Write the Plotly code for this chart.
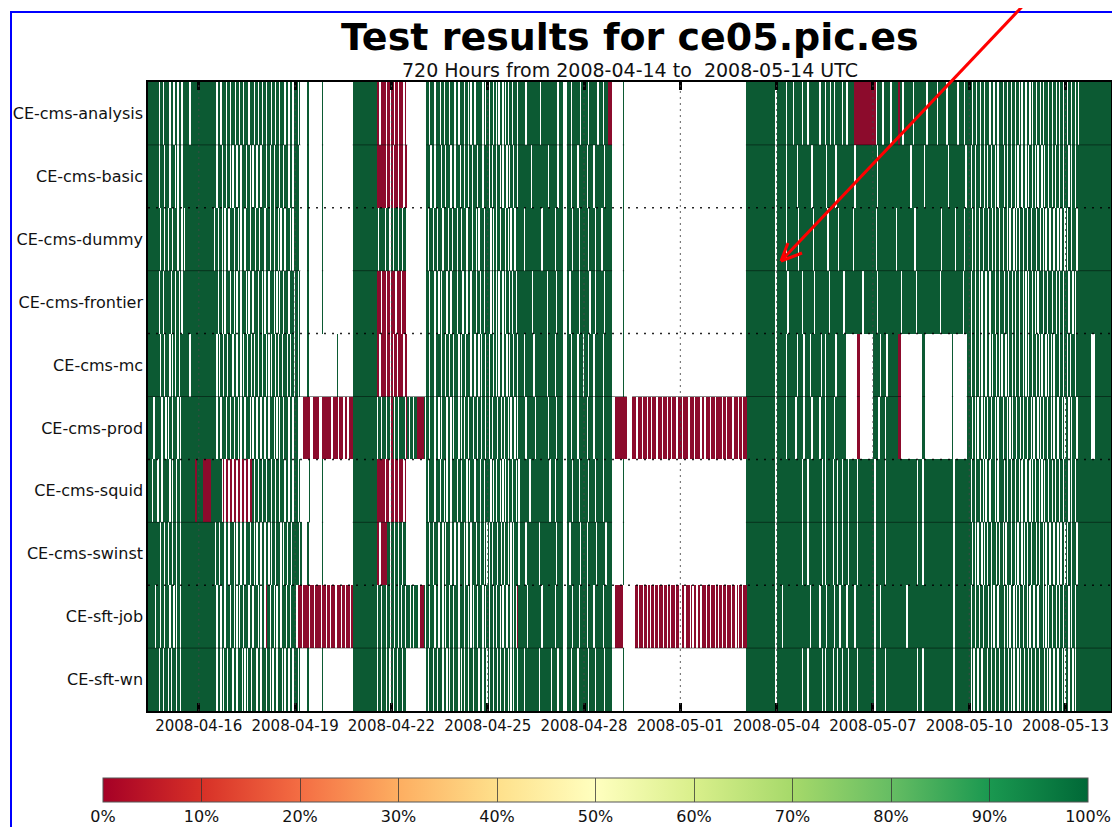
import pandas as pd
import plotly.graph_objects as go

# ---------------------------------------------------------------- data
services = ["CE-cms-analysis", "CE-cms-basic", "CE-cms-dummy", "CE-cms-frontier",
            "CE-cms-mc", "CE-cms-prod", "CE-cms-squid", "CE-cms-swinst",
            "CE-sft-job", "CE-sft-wn"]

# One string per UTC calendar day, one character per hour:
# g = passed (100 %), r = failed (0 %), . = no result.
# First chunk: 2008-04-14 10h-23h, then 04-15 ... 05-13, last chunk: 2008-05-14 00h-09h.
analysis_days = [
    "gg gggggg .gg.gg",
    "gg.gg. gg.gg. ggggg. gggggg", "gggggg gggggg g.gg.g gg.gg.", "ggg.gg .gg.gg g.ggg. gg.gg.",
    "gg.ggg .gg.gg .ggg.g g.gg.g", "gg.g.. ...g.. ...... ..g...", "...... ...... ...... .ggggg",
    "gggggg gggggg grr.rr rr.rr.", "rr.rr. rrr.r. ...... ......", "..gg.g gg.ggg .gg.gg g.ggg.",
    "gg.ggg .gg.g. gg.ggg gg.g.g", "g.gg.g .g.gg. g.g.gg .ggg.g", "gggg.g gggggg ggg.gg gggggg",
    "gggg.g gg...g gg.ggg ggg.gg", "ggg.gg gggg.g gg.ggg rrr...", ".....g ...... ...... ......",
    "...... ...... ...... ......", "...... ...... ...... ......", "...... ...... ...... ......",
    ".ggggg gggggg gggggg ggggg.", "gggggg g.gggg .ggggg g.ggg.", "gggggg gg.ggg .ggg.g g.gggg",
    "g.gg.g ggggrr rrrrrr rrrrrr", "rr.ggg g.gggg g.gggg grgg.g", "gggggg .ggggg gggg.g gggggg",
    ".ggggg g.gggg ggg.gg gg.ggg", "gg.gg. gg.gg. ggg.gg .gg.gg", "g.gg.g g.gg.g g.g.gg .gg.g.",
    "gg.gg. g.ggg. gg.gg. g.gg.g", "g.gg.g g.g.gg gggggg gggggg",
    "gggggg gggg",
]
basic_days = [
    "gg gggggg .ggg.g",
    "gg.ggg .g.gg. gggggg gggggg", "gggggg gggggg g.ggg. gg.gg.", "g.gg.g g.ggg. gg.g.g g.gg.g",
    "gg.gg. gg.ggg .gg.gg g.gg.g", "ggg... ...g.. ...... ..g...", "...... ...... ...... .ggggg",
    "gggggg gggggg grrrrr rr.rr.", "r.rrr. rrr.rr ...... ......", "..ggg. gg.ggg g.gg.g gg.gg.",
    "ggg.gg .gg.gg .ggg.g gg.ggg", "g.g.gg .gg.g. gg.g.g g.gg.g", "gggggg gg.ggg gggggg ggg.gg",
    "gggg.g gg...g gg.ggg g.gggg", "gg.ggg g.gggg ggg.gg ggg...", ".....g ...... ...... ......",
    "...... ...... ...... ......", "...... ...... ...... ......", "...... ...... ...... ......",
    ".ggggg gggggg gggggg ggggg.", "gggggg g.gggg ggg.gg gggggg", "gg.ggg gggggg g.gggg gg.ggg",
    "gggggg gggg.g gggggg gggggg", "ggg.gg gggggg gggggg gggggg", "gggg.g gggggg gg.ggg gggggg",
    "gggggg gg.ggg gggggg ggg.gg", "g.gg.g gg.gg. g.gg.g g.g.gg", "gg.g.g g.gg.g .gg.gg .g.gg.",
    "g.g.gg .g.gg. gg.g.g g.gg.g", "gg.g.g g.gggg gggggg gggggg",
    "gggggg gggg",
]
dummy_days = [
    "gg gggggg g.gg.g",
    "g.gg.g gg.gg. g.gggg gggggg", "gggggg ggggg. gg.gg. g.gg.g", "gg.gg. g.gg.g gg.ggg .gg.gg",
    "g.ggg. gg.gg. g.gg.g gg.g.g", "ggg... ...g.. ...... ..g...", "...... ...... ...... .ggggg",
    "gggggg gggggg gg.ggg g.gg..", "g.ggg. gg.gg. ...... ......", "..g.gg g.gg.g gg.ggg .gg.gg",
    "g.gg.g gg.ggg .gg.g. ggg.gg", "gg.g.g .gg.gg g.g.g. gg.ggg", "ggg.gg gggggg gggg.g gggggg",
    "gg.ggg gg...g ggg.gg gg.ggg", "ggg.gg gg.ggg g.gggg ggg...", ".....g ...... ...... ......",
    "...... ...... ...... ......", "...... ...... ...... ......", "...... ...... ...... ......",
    ".ggggg gggggg gggggg ggggg.", "gggggg g.gggg gggg.g gggggg", "ggg.gg gggggg gg.ggg gggg.g",
    "gggggg ggg.gg gggggg gggggg", "gg.ggg gggggg ggggg. gggggg", "gggggg g.gggg gggggg gggggg",
    "ggg.gg gggggg g.gggg gg.ggg", "gg.g.g g.gg.g gg.gg. g.gg.g", "g.gg.g .gg.g. g.gg.g g.gg.g",
    "gg.gg. g.g.gg .gg.gg .g.gg.", "g.gg.g gg.ggg gggggg gggggg",
    "gggggg gggg",
]
frontier_days = [
    "gg gggggg .gg.gg",
    "ggg.gg .gg.g. gggggg gggggg", "gggggg gggggg gg.gg. g.ggg.", "gg.g.g g.ggg. g.gg.g gg.gg.",
    "g.gg.g gg.g.g .gg.gg g.ggg.", "gg.g.. ...g.. ...... ..g...", "...... ...... ...... .ggggg",
    "gggggg gggggg grrr.r rr.rr.", "rrr.rr r.rrr. ...... ......", "..gg.g gg.gg. g.ggg. gg.ggg",
    "g.ggg. gg.gg. ggg.gg .gg.gg", "gg.g.g .g.gg. g.gg.g .gg.gg", "gggggg ggg.gg gggggg gg.ggg",
    "ggg.gg gg...g g.gggg gg.ggg", "gggg.g gg.ggg ggg.gg ggg...", ".....g ...... ...... ......",
    "...... ...... ...... ......", "...... ...... ...... ......", "...... ...... ...... ......",
    ".ggggg gggggg gggggg ggggg.", "gggggg gg.ggg gggggg g.gggg", "gggg.g gggggg ggg.gg gggggg",
    "gg.ggg gggggg gggg.g gggggg", "ggg.gg gggggg gggggg ggg.gg", "gggggg gg.ggg gggggg gggggg",
    "gg.ggg gggggg gggggg g.gggg", "g.gg.g g.g.gg .gg.gg g.gg.g", "gg.gg. gg.g.g g.gg.g .g.gg.",
    "g.g.gg g.gg.g gg.gg. g.gg.g", "gg.gg. g.gggg gggggg gggggg",
    "gggggg gggg",
]
mc_days = [
    "gg gggggg g.gg.g",
    "gg.g.g .gg.gg ggggg. gggggg", "gggggg gggggg g.g.gg .gg.gg", "g.gg.g g.g.gg .gg.g. gg.gg.",
    "gg.g.g .gg.g. gg.ggg .g.gg.", "gg.g.. ...g.. ...... ......", "...... .g.... ...... .ggggg",
    "gggggg gggggg grr.rr rr.rr.", "r.rr.r rrr.rr ...... ......", "..gg.g gg.ggg g.gg.g g.gg.g",
    "gg.g.g g.ggg. gg.gg. g.gg.g", "g.gg.g .g.gg. gg.g.g g.gg.g", "ggg.gg gggg.g gggggg gg.ggg",
    "gg.ggg gg...g gg.ggg g.ggg.", "ggg.gg g.gggg gg.ggg ggg...", ".....g ...... ...... ......",
    "...... ...... ...... ......", "...... ...... ...... ......", "...... ...... ...... ......",
    ".ggggg gggggg gggggg ggggg.", "gggggg g.gggg ggg.gg gg.ggg", "g.gggg ggg.gg .ggggg gg.ggg",
    "gggg.. ...... rr.... ......", "ggggg. gggg.g gggggg grr...", "...... ...... .gg... ......",
    "...... .....g ...... ....gg", "g.gg.g g.g.gg .gg.g. gg.g.g", ".gg.g. gg.g.g g.gg.g .g.gg.",
    "gg.g.g .gg.g. g.g.gg g.gg.g", "g.g.gg g.gggg gggggg g...gg",
    "gggggg gggg",
]
prod_days = [
    "gg gg.ggg gg.gg.",
    "g.gg.g gg.g.g gggggg gggggg", "gggggg gggggg g.gg.g gg.gg.", "gg.gg. g.gg.g gg.g.g g.gg.g",
    "g.gg.g gg.g.g .gg.gg g.gg.g", "gg.... rrrrr. .rrrrr ..rrrr", "rrr.rr rr.rrr .rr.rr rggggg",
    "gggggg gggggg g.gg.g gg.gg.", "rg.gg. gggg.r g.gg.g grrrrr", "g.gg.g gg.gg. g.ggg. gg.g.g",
    "gg.g.g .gg.gg g.gg.g g.gg.g", "g.g.gg g.gg.g .gg.g. gg.g.g", "gggg.g ggggg. gggggg ggg.gg",
    "ggg.gg gg...g gg.ggg g.gggg", "gg.ggg g.gggg gg.ggg ggg..r", "rrrrrr rr.... rrr.rr r.rrr.",
    "rr.rrr .rrr.r rr.rr. rrr.rr", "r.rrrr .rrr.r rrr.rr .rrr.r", "rr.rrr r.rr.r rrr.rr r.rr.r",
    "rrgggg gggggg gggggg ggggg.", "gggggg g.gggg gg.ggg gg.ggg", "gg.ggg gg.ggg .ggggg g.gggg",
    "gggg.. ...... rr.... ......", "gggg.g ggg.gg gggggg grr...", "...... ...... .gg... ......",
    "...... .....g ...... ....gg", "gg.g.g .gg.g. g.gg.g g.g.gg", "g.gg.g .g.gg. gg.g.g g.gg.g",
    ".gg.g. g.gg.g g.g.gg .gg.g.", "gg.g.g gg.ggg gggggg g...gg",
    "gggggg gggg",
]
squid_days = [
    "gg g.ggg. gg.ggg",
    "gg.g.g g.gg.g gggggg gggrrg", "gggrrr rrrggg ggggg. r.rr.r", "r.rr.r r.rr.r r.rrg. gg.gg.",
    "gg.ggg .gg.gg .ggg.g g.gg.g", "gg.g.. ....g. ...... ..g...", "...... ...... ...... .ggggg",
    "gggggg gggggg grrrrr r.rr..", "rr.rr. rrr.r. ...... ......", "..g.gg gg.ggg .gg.g. gg.ggg",
    "g.gg.g gg.g.g gg.ggg .gg.gg", "gg.g.g .gg.g. g.g.gg .gg.g.", "gggggg g.gggg gggggg gggg.g",
    "gg.ggg gg...g ggg.gg gg.ggg", "ggg.gg gg.ggg gg.ggg ggg...", ".....g ...... ...... ......",
    "...... ...... ...... ......", "...... ...... ...... ......", "...... ...... ...... ......",
    ".ggggg gggggg gggggg ggggg.", "gggggg gggggg gggggg g.ggg.", "gggggg gggg.g .ggggg .gg.gg",
    "g.ggg. gggggg .ggggg gggggg", "g.gggg ggg.gg gggggg gggggg", "gggggg ggg.gg g.gggg gggggg",
    "gggggg gggggg .ggggg gggggg", "g.gg.g gg.g.g .gg.gg g.g.gg", "gg.g.g g.gg.g g.g.gg .gg.g.",
    "g.gg.g .g.gg. gg.g.g g.gg.g", "gg.g.g g.gggg gggggg gggggg",
    "gggggg gggg",
]
swinst_days = [
    "gg gggggg g.gg.g",
    "g.gg.g g.gg.g gggggg gggggg", "gggggg gggggg .gg.gg g.gg.g", "gg.g.g g.gg.g gg.gg. g.gg.g",
    "g.gg.g .gg.gg g.g.gg .gg.gg", "ggg.g. ...g.. ...... ..g...", "...... ...... ...... .ggggg",
    "gggggg gggggg grr.rr rrrgg.", "gg.gg. gg.gg. ...... ......", "..gg.g g.ggg. gg.g.g gg.gg.",
    "gg.ggg .g.gg. ggg.gg .gg.g.", "g.g.gg g.gg.g .gg.g. g.ggg.", "gggg.g gggggg gg.ggg gggggg",
    "ggg.gg gg...g g.gggg ggg.gg", "gg.ggg ggg.gg gggg.g ggg...", ".....g ...... ...... ......",
    "...... ...... ...... ......", "...... ...... ...... ......", "...... ...... ...... ......",
    ".ggggg gggggg gggggg ggggg.", "gggggg gggggg gggggg g.ggg.", "gggggg gggg.g .ggggg .gg.gg",
    "g.ggg. gggggg .ggggg gggggg", "g.gggg ggg.gg gggggg gggggg", "gggggg ggg.gg g.gggg gggggg",
    "gggggg gggggg .ggggg gggggg", "gg.g.g .gg.g. g.gg.g gg.g.g", "g.g.gg g.gg.g .gg.g. g.gg.g",
    "gg.g.g g.g.gg .gg.gg .g.gg.", "g.gg.g gg.ggg gggggg gggggg",
    "gggggg gggg",
]
sftjob_days = [
    "gg ggg.gg g.gg.g",
    "gg.gg. g.gg.g gggggg gggggg", "gggggg gggggg g.gg.g g.ggg.", "gg.g.g .gg.gg g.gg.g gg.g.g",
    "g.rgg. gg.g.g g.ggg. gg.ggg", "g.rrr. rrrr.r rr.rrr r.rrr.", "rr.rrr .rrr.r r.rrr. rggggg",
    "gggggg gggggg g.gg.g gg.gg.", "gg.gg. g.gg.g gg.g.g gg.rrr", "g.gg.g gg.gg. gg.g.g g.gg.g",
    "gg.ggg .gg.g. g.gg.g gg.g.g", "g.gg.g .gg.g. gg.gg. g.g.rg", "ggggg. gggggg gggg.g gggggg",
    "gg.ggg gg...g ggg.gg gg.ggg", "gg.ggg g.gggg gg.ggg ggg..r", "rrrrr. ...... ..rr.r rr.rr.",
    "r.rr.r r.rrr. rr.r.r rr.rr.", ".rr.rr r.r.rr .rr.rr r.rr.r", "rr.r.r r.rr.r rr.rr. r.rr.r",
    "rrgggg gggggg gggggg ggggg.", "gggg.g gggggg gggggg gggggg", "g.gggg gg.ggg g.gggg g.ggg.",
    "gggg.g gggg.g gggggg gggggg", "g.ggg. gggggg gggggg gggggg", "g.gggg gggggg gggggg gggggg",
    "gggggg gggggg .ggggg gggggg", "g.gg.g g.gg.g gg.g.g .gg.gg", "gg.g.g .gg.g. g.gg.g g.g.gg",
    ".gg.gg g.g.g. gg.gg. g.gg.g", "gg.g.g g.gggg gggggg gggggg",
    "gggggg gggg",
]
sftwn_days = [
    "gg gggggg .gg.gg",
    "g.g.gg g.gg.g gggggg gggggg", "gggggg gggggg g.gg.g .gg.gg", "g.gg.g gg.g.g .gg.gg g.gg.g",
    "gg.gg. g.gg.g gg.g.g g.gg.g", "gg.g.. ...g.. ...... ..g...", "...... ...... ...... .ggggg",
    "gggggg gggggg g.gg.g gg.g..", "g.gg.g gg.gg. ...... ......", "..g.gg g.gg.g gg.gg. g.gg.g",
    "gg.g.g .gg.gg g.ggg. gg.gg.", "g.gg.g g.g.gg .gg.g. g.gg.g", "ggg.gg gggggg gg.ggg ggggg.",
    "gggg.g gg...g gg.ggg g.gggg", "ggg.gg gg.ggg ggg.gg ggg...", ".....g ...... ...... ......",
    "...... ...... ...... ......", "...... ...... ...... ......", "...... ...... ...... ......",
    ".ggggg gggggg gggggg ggggg.", "gggggg gggggg gggggg g.ggg.", "gggggg gggg.g .ggggg .gg.gg",
    "g.ggg. gggggg .ggggg gggggg", "g.gggg ggg.gg gggggg gggggg", "gggggg ggg.gg g.gggg gggggg",
    "gggggg gggggg .ggggg gggggg", "g.g.gg .gg.gg g.gg.g g.gg.g", "gg.gg. g.g.gg .g.gg. gg.g.g",
    "g.gg.g gg.g.g .gg.gg .gg.g.", "gg.gg. g.gggg gggggg gggggg",
    "gggggg gggg",
]
all_days = [analysis_days, basic_days, dummy_days, frontier_days, mc_days,
            prod_days, squid_days, swinst_days, sftjob_days, sftwn_days]

hour_value = {"g": 100, "r": 0, ".": None}
start_time = "2008-04-14 10:00"
end_time = "2008-05-14 10:00"
n_hours = 720
tick_dates = ["2008-04-16", "2008-04-19", "2008-04-22", "2008-04-25", "2008-04-28",
              "2008-05-01", "2008-05-04", "2008-05-07", "2008-05-10", "2008-05-13"]
cbar_vals = [0, 10, 20, 30, 40, 50, 60, 70, 80, 90, 100]
cbar_text = ["0%", "10%", "20%", "30%", "40%", "50%", "60%", "70%", "80%", "90%", "100%"]

# ---------------------------------------------------------------- build matrix
expected = [14] + [24] * 29 + [10]
z = []
for name, days in zip(services, all_days):
    if len(days) != 31:
        raise ValueError(f"{name}: {len(days)} day strings")
    codes = []
    for i, (d, n) in enumerate(zip(days, expected)):
        s = d.replace(" ", "")
        if len(s) != n:
            raise ValueError(f"{name} day {i}: {len(s)} != {n} ({d})")
        codes.extend(s)
    z.append([hour_value[c] for c in codes])

hours = pd.date_range(start_time, periods=n_hours + 1, freq="h")
centers = hours[:-1] + pd.Timedelta(minutes=30)
yidx = list(range(len(services)))

# ---------------------------------------------------------------- geometry helpers
# the page body has an 8px margin, so the figure is 8px smaller and everything
# is laid out in reference-pixel coordinates shifted by 8px.
OFF = 8
W_FIG, H_FIG = 1120 - OFF, 827 - OFF
L, T = 148 - OFF, 82 - OFF
R = W_FIG - (1111 - OFF)
B = H_FIG - (711 - OFF)
PW, PH = W_FIG - L - R, H_FIG - T - B


def px(x):
    return (x - OFF - L) / PW


def py(y):
    return 1 - (y - OFF - T) / PH


# darker rendering of the bars (their dark edges darken the cells in the original)
bar_scale = [[0.0, "#8c0b2c"], [0.1, "#b5252a"], [0.2, "#d24d33"], [0.3, "#e07b45"],
             [0.4, "#e6a861"], [0.5, "#e8df9a"], [0.6, "#c4d77e"], [0.7, "#93c06a"],
             [0.8, "#5fa35f"], [0.9, "#237b4a"], [1.0, "#0c5a33"]]

fig = go.Figure()
fig.add_trace(go.Heatmap(
    x=centers, y=yidx, z=z, zmin=0, zmax=100, colorscale=bar_scale,
    hoverongaps=False, xgap=0, ygap=0, showscale=False,
))
fig.add_trace(go.Scatter(
    x=[None], y=[None], mode="markers", hoverinfo="skip", showlegend=False,
    marker=dict(color=[0], cmin=0, cmax=100, colorscale="RdYlGn", showscale=True,
                colorbar=dict(
                    orientation="h", xref="paper", yref="paper",
                    x=px(103), xanchor="left", y=py(778), yanchor="top",
                    lenmode="pixels", len=985, thicknessmode="pixels", thickness=24,
                    xpad=0, ypad=0, outlinewidth=1, outlinecolor="#555",
                    tickvals=cbar_vals, ticktext=cbar_text, ticks="inside", ticklen=24,
                    tickwidth=1.2, tickcolor="rgba(50,50,50,0.75)",
                    tickfont=dict(family="DejaVu Sans", size=16, color="#111"),
                )),
))

shapes = []
# dark edges between rows where bars exist
for b in range(len(services) - 1):
    if b in (1, 3, 5, 7):
        continue
    has = [(z[b][k] is not None) or (z[b + 1][k] is not None) for k in range(n_hours)]
    k = 0
    while k < n_hours:
        if has[k]:
            s = k
            while k < n_hours and (has[k] or any(has[k:k + 3])):
                k += 1
            shapes.append(dict(type="line", xref="x", yref="y", x0=hours[s], x1=hours[k],
                               y0=b + 0.5, y1=b + 0.5, layer="above",
                               line=dict(color="rgba(0,0,0,0.45)", width=1)))
        else:
            k += 1
# horizontal dotted grid
for yb in (1.5, 3.5, 5.5, 7.5):
    shapes.append(dict(type="line", xref="paper", yref="y", x0=0, x1=1, y0=yb, y1=yb,
                       layer="above", line=dict(color="rgba(0,0,0,0.85)", width=1.5, dash="2px,6px")))
# vertical dotted grid
for d in tick_dates:
    shapes.append(dict(type="line", xref="x", yref="paper", x0=d, x1=d, y0=0, y1=1,
                       layer="above", line=dict(color="rgba(70,70,70,0.85)", width=1, dash="2px,4px")))
# page decorations: blue frame and red arrow
shapes.append(dict(type="rect", xref="paper", yref="paper", x0=px(11), x1=px(1140),
                   y0=py(12), y1=py(850), line=dict(color="#0000ff", width=2), layer="above"))
for (x0, y0, x1, y1) in [(1036, -8, 781, 261), (781, 261, 788, 243), (781, 261, 802, 253)]:
    shapes.append(dict(type="line", xref="paper", yref="paper", x0=px(x0), y0=py(y0),
                       x1=px(x1), y1=py(y1), line=dict(color="#ff0000", width=3), layer="above"))

annotations = [
    dict(text="<b>Test results for ce05.pic.es</b>", xref="paper", yref="paper",
         x=px(630), y=py(37), xanchor="center", yanchor="middle", showarrow=False,
         font=dict(family="DejaVu Sans", size=38, color="#000")),
    dict(text="720 Hours from 2008-04-14 to\u00a0 2008-05-14 UTC", xref="paper", yref="paper",
         x=px(630), y=py(70), xanchor="center", yanchor="middle", showarrow=False,
         font=dict(family="DejaVu Sans", size=19, color="#111")),
]

fig.update_layout(
    width=W_FIG, height=H_FIG, margin=dict(l=L, r=R, t=T, b=B, autoexpand=False),
    paper_bgcolor="white", plot_bgcolor="white",
    font=dict(family="DejaVu Sans", color="#111"),
    shapes=shapes, annotations=annotations, showlegend=False,
    xaxis=dict(type="date", range=[start_time, end_time], tickvals=tick_dates,
               tickformat="%Y-%m-%d", ticks="inside", ticklen=8, tickwidth=3, tickcolor="#000",
               showline=True, linecolor="#000", linewidth=1.5, mirror="ticks",
               showgrid=False, zeroline=False, automargin=False,
               tickfont=dict(family="DejaVu Sans", size=15, color="#111")),
    yaxis=dict(range=[len(services) - 0.5, -0.5], tickvals=yidx, ticktext=services,
               ticks="", showline=True, linecolor="#000", linewidth=1.5, mirror=True,
               showgrid=False, zeroline=False, automargin=False,
               tickfont=dict(family="DejaVu Sans", size=16, color="#111")),
)

fig.write_html("out.html")
